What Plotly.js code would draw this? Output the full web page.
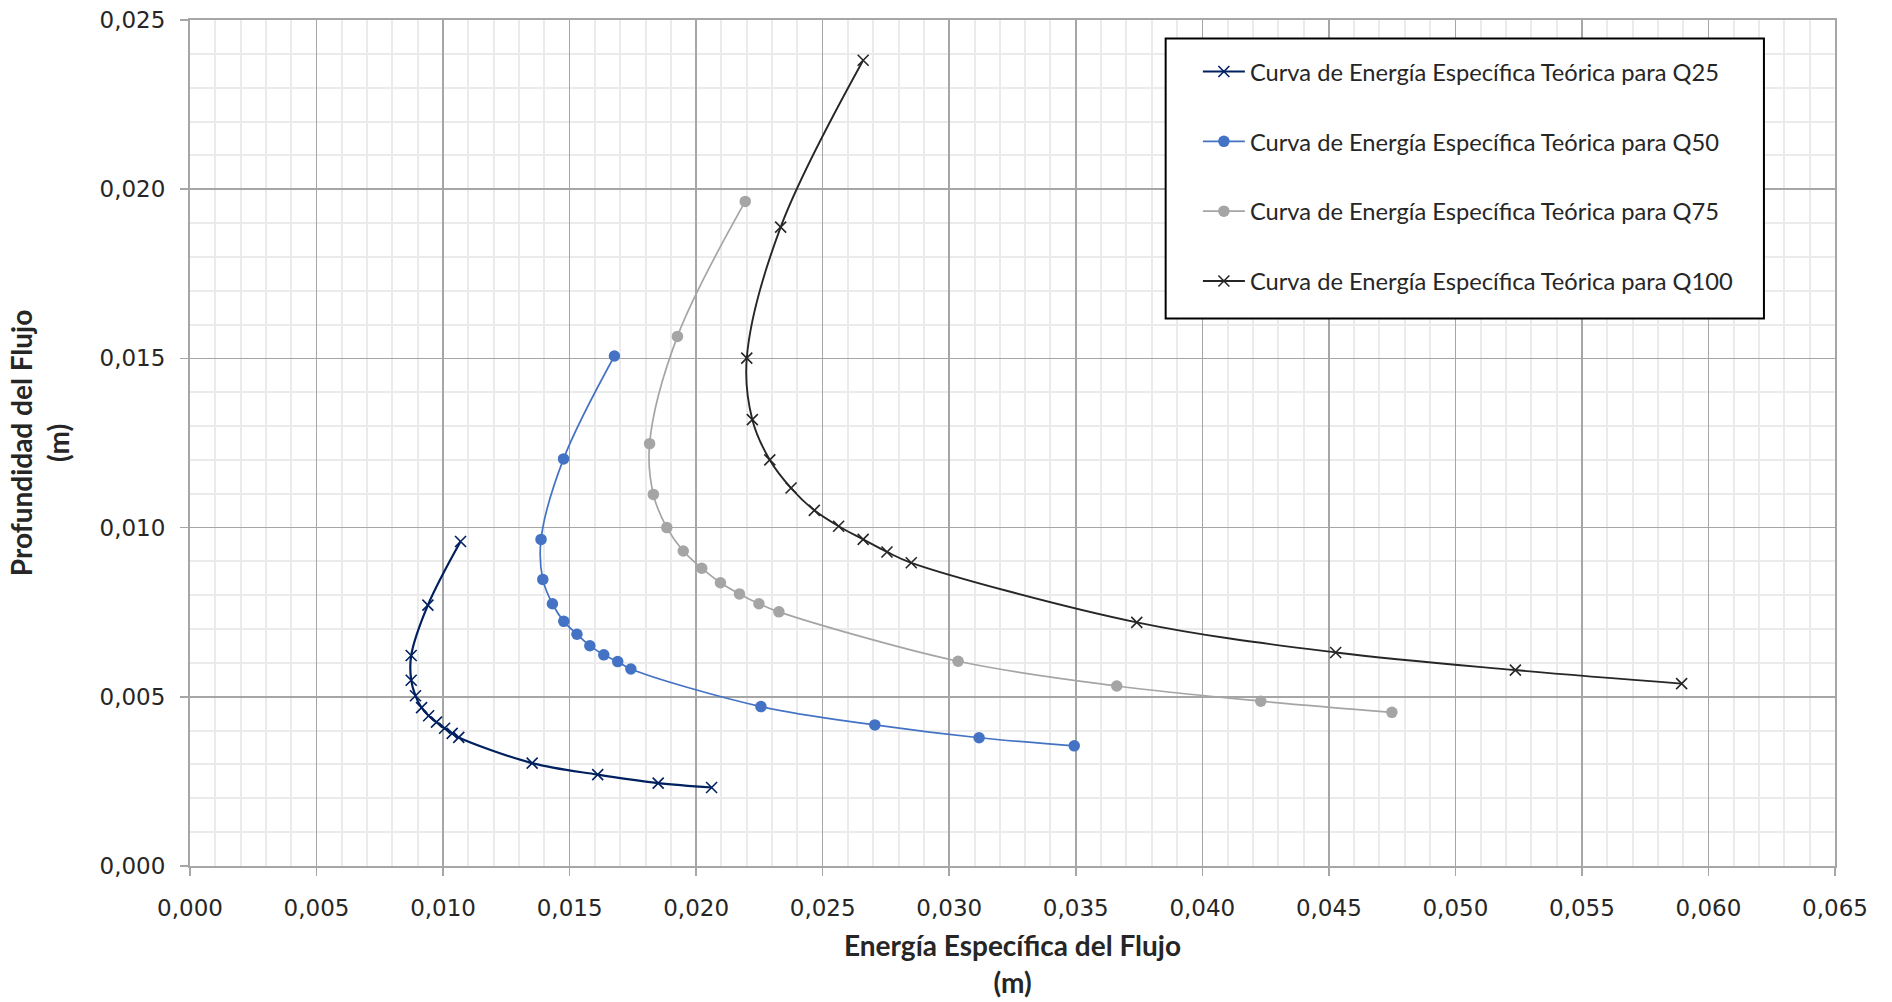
<!DOCTYPE html>
<html>
<head>
<meta charset="utf-8">
<script src="https://cdn.plot.ly/plotly-3.0.1.min.js"></script>
<style>
  html, body { margin: 0; padding: 0; background: #ffffff; }
  #chart { width: 1892px; height: 1002px; }
</style>
</head>
<body>
<div id="chart"></div>
<script>
// ---- Data ----
const seriesNames = [
  "Curva de Energía Específica Teórica para Q25",
  "Curva de Energía Específica Teórica para Q50",
  "Curva de Energía Específica Teórica para Q75",
  "Curva de Energía Específica Teórica para Q100"
];

const q25Energy = [0.01069, 0.00940, 0.00874, 0.00874, 0.00891, 0.00915, 0.00943, 0.00974, 0.01006, 0.01036, 0.01062, 0.01352, 0.01611, 0.01850, 0.02061];
const q25Depth  = [0.00959, 0.00771, 0.00622, 0.00549, 0.00503, 0.00468, 0.00444, 0.00425, 0.00407, 0.00392, 0.00380, 0.00304, 0.00270, 0.00245, 0.00232];

const q50Energy = [0.01677, 0.01476, 0.01387, 0.01394, 0.01432, 0.01477, 0.01529, 0.01580, 0.01635, 0.01690, 0.01742, 0.02256, 0.02706, 0.03118, 0.03494];
const q50Depth  = [0.01507, 0.01203, 0.00965, 0.00847, 0.00775, 0.00723, 0.00685, 0.00651, 0.00624, 0.00604, 0.00582, 0.00471, 0.00417, 0.00379, 0.00355];

const q75Energy = [0.02194, 0.01926, 0.01816, 0.01831, 0.01884, 0.01949, 0.02022, 0.02096, 0.02171, 0.02248, 0.02327, 0.03035, 0.03662, 0.04231, 0.04749];
const q75Depth  = [0.01964, 0.01565, 0.01248, 0.01098, 0.01000, 0.00931, 0.00880, 0.00837, 0.00804, 0.00775, 0.00751, 0.00605, 0.00532, 0.00487, 0.00454];

const q100Energy = [0.02660, 0.02334, 0.02200, 0.02222, 0.02291, 0.02375, 0.02467, 0.02563, 0.02660, 0.02754, 0.02850, 0.03741, 0.04527, 0.05237, 0.05894];
const q100Depth  = [0.02381, 0.01888, 0.01501, 0.01319, 0.01200, 0.01117, 0.01051, 0.01004, 0.00965, 0.00928, 0.00896, 0.00720, 0.00631, 0.00579, 0.00539];

const xTitle = "Energía Específica del Flujo<br>(m)";
const yTitle = "Profundidad del Flujo<br>(m)";

// ---- Styles ----
const FONT = "Lato, 'Open Sans', sans-serif";
const TICKFONT = "'DejaVu Sans', Lato, sans-serif";
const colors = ["#002060", "#4472C4", "#A5A5A5", "#262626"];

function makeTrace(x, y, name, color, symbol, lineWidth, group) {
  const isX = symbol === "x-thin";
  return {
    x: x, y: y, name: name, type: "scatter", mode: "lines+markers",
    legendgroup: group,
    line: { color: color, width: lineWidth, shape: "spline", smoothing: 1 },
    marker: isX
      ? { symbol: "x-thin", size: 11, color: color, line: { color: color, width: 1.6 } }
      : { symbol: "circle", size: 11.5, color: color, line: { width: 0 } },
    hoverinfo: "x+y+name"
  };
}

const data = [
  makeTrace(q25Energy, q25Depth, seriesNames[0], colors[0], "x-thin", 2.2, "g1"),
  makeTrace(q50Energy, q50Depth, seriesNames[1], colors[1], "circle", 1.7, "g2"),
  makeTrace(q75Energy, q75Depth, seriesNames[2], colors[2], "circle", 1.7, "g3"),
  makeTrace(q100Energy, q100Depth, seriesNames[3], colors[3], "x-thin", 1.9, "g4")
];

const axisCommon = {
  showline: true, linecolor: "#A6A6A6", linewidth: 2, mirror: true,
  showgrid: true, gridcolor: "#A6A6A6", gridwidth: 1.5,
  zeroline: false,
  ticks: "outside", ticklen: 8, tickcolor: "#A6A6A6", tickwidth: 1.5,
  tickformat: ".3f",
  tickfont: { family: TICKFONT, size: 23, color: "#262626" },
  minor: { dtick: 0.001, showgrid: true, gridcolor: "#EBEBEB", gridwidth: 2, ticks: "" }
};

const layout = {
  width: 1892, height: 1002,
  margin: { l: 190, r: 57, t: 20, b: 136 },
  paper_bgcolor: "#ffffff", plot_bgcolor: "#ffffff",
  separators: ", ",
  font: { family: FONT, color: "#262626" },
  showlegend: true,
  xaxis: Object.assign({}, axisCommon, {
    range: [0, 0.065], dtick: 0.005, tick0: 0,
    ticklabelstandoff: 12,
    title: { text: xTitle, font: { family: FONT, size: 28, color: "#262626", weight: "bold" }, standoff: 17 }
  }),
  yaxis: Object.assign({}, axisCommon, {
    range: [0, 0.025], dtick: 0.005, tick0: 0,
    ticklabelstandoff: 10,
    title: { text: yTitle, font: { family: FONT, size: 28, color: "#262626", weight: "bold" }, standoff: 22 }
  }),
  legend: {
    x: 0.6127, y: 0.965, xanchor: "left", yanchor: "top",
    bgcolor: "rgba(0,0,0,0)", borderwidth: 0,
    itemwidth: 42,
    traceorder: "grouped", tracegroupgap: 36,
    font: { family: FONT, size: 23.7, color: "#262626" }
  },
  shapes: [{
    type: "rect", xref: "paper", yref: "paper",
    x0: 0.5931, x1: 0.9568, y0: 0.6472, y1: 0.978,
    line: { color: "#000000", width: 2 }, fillcolor: "#ffffff", layer: "above"
  }]
};

Plotly.newPlot("chart", data, layout, { displayModeBar: false, staticPlot: true });
</script>
</body>
</html>
